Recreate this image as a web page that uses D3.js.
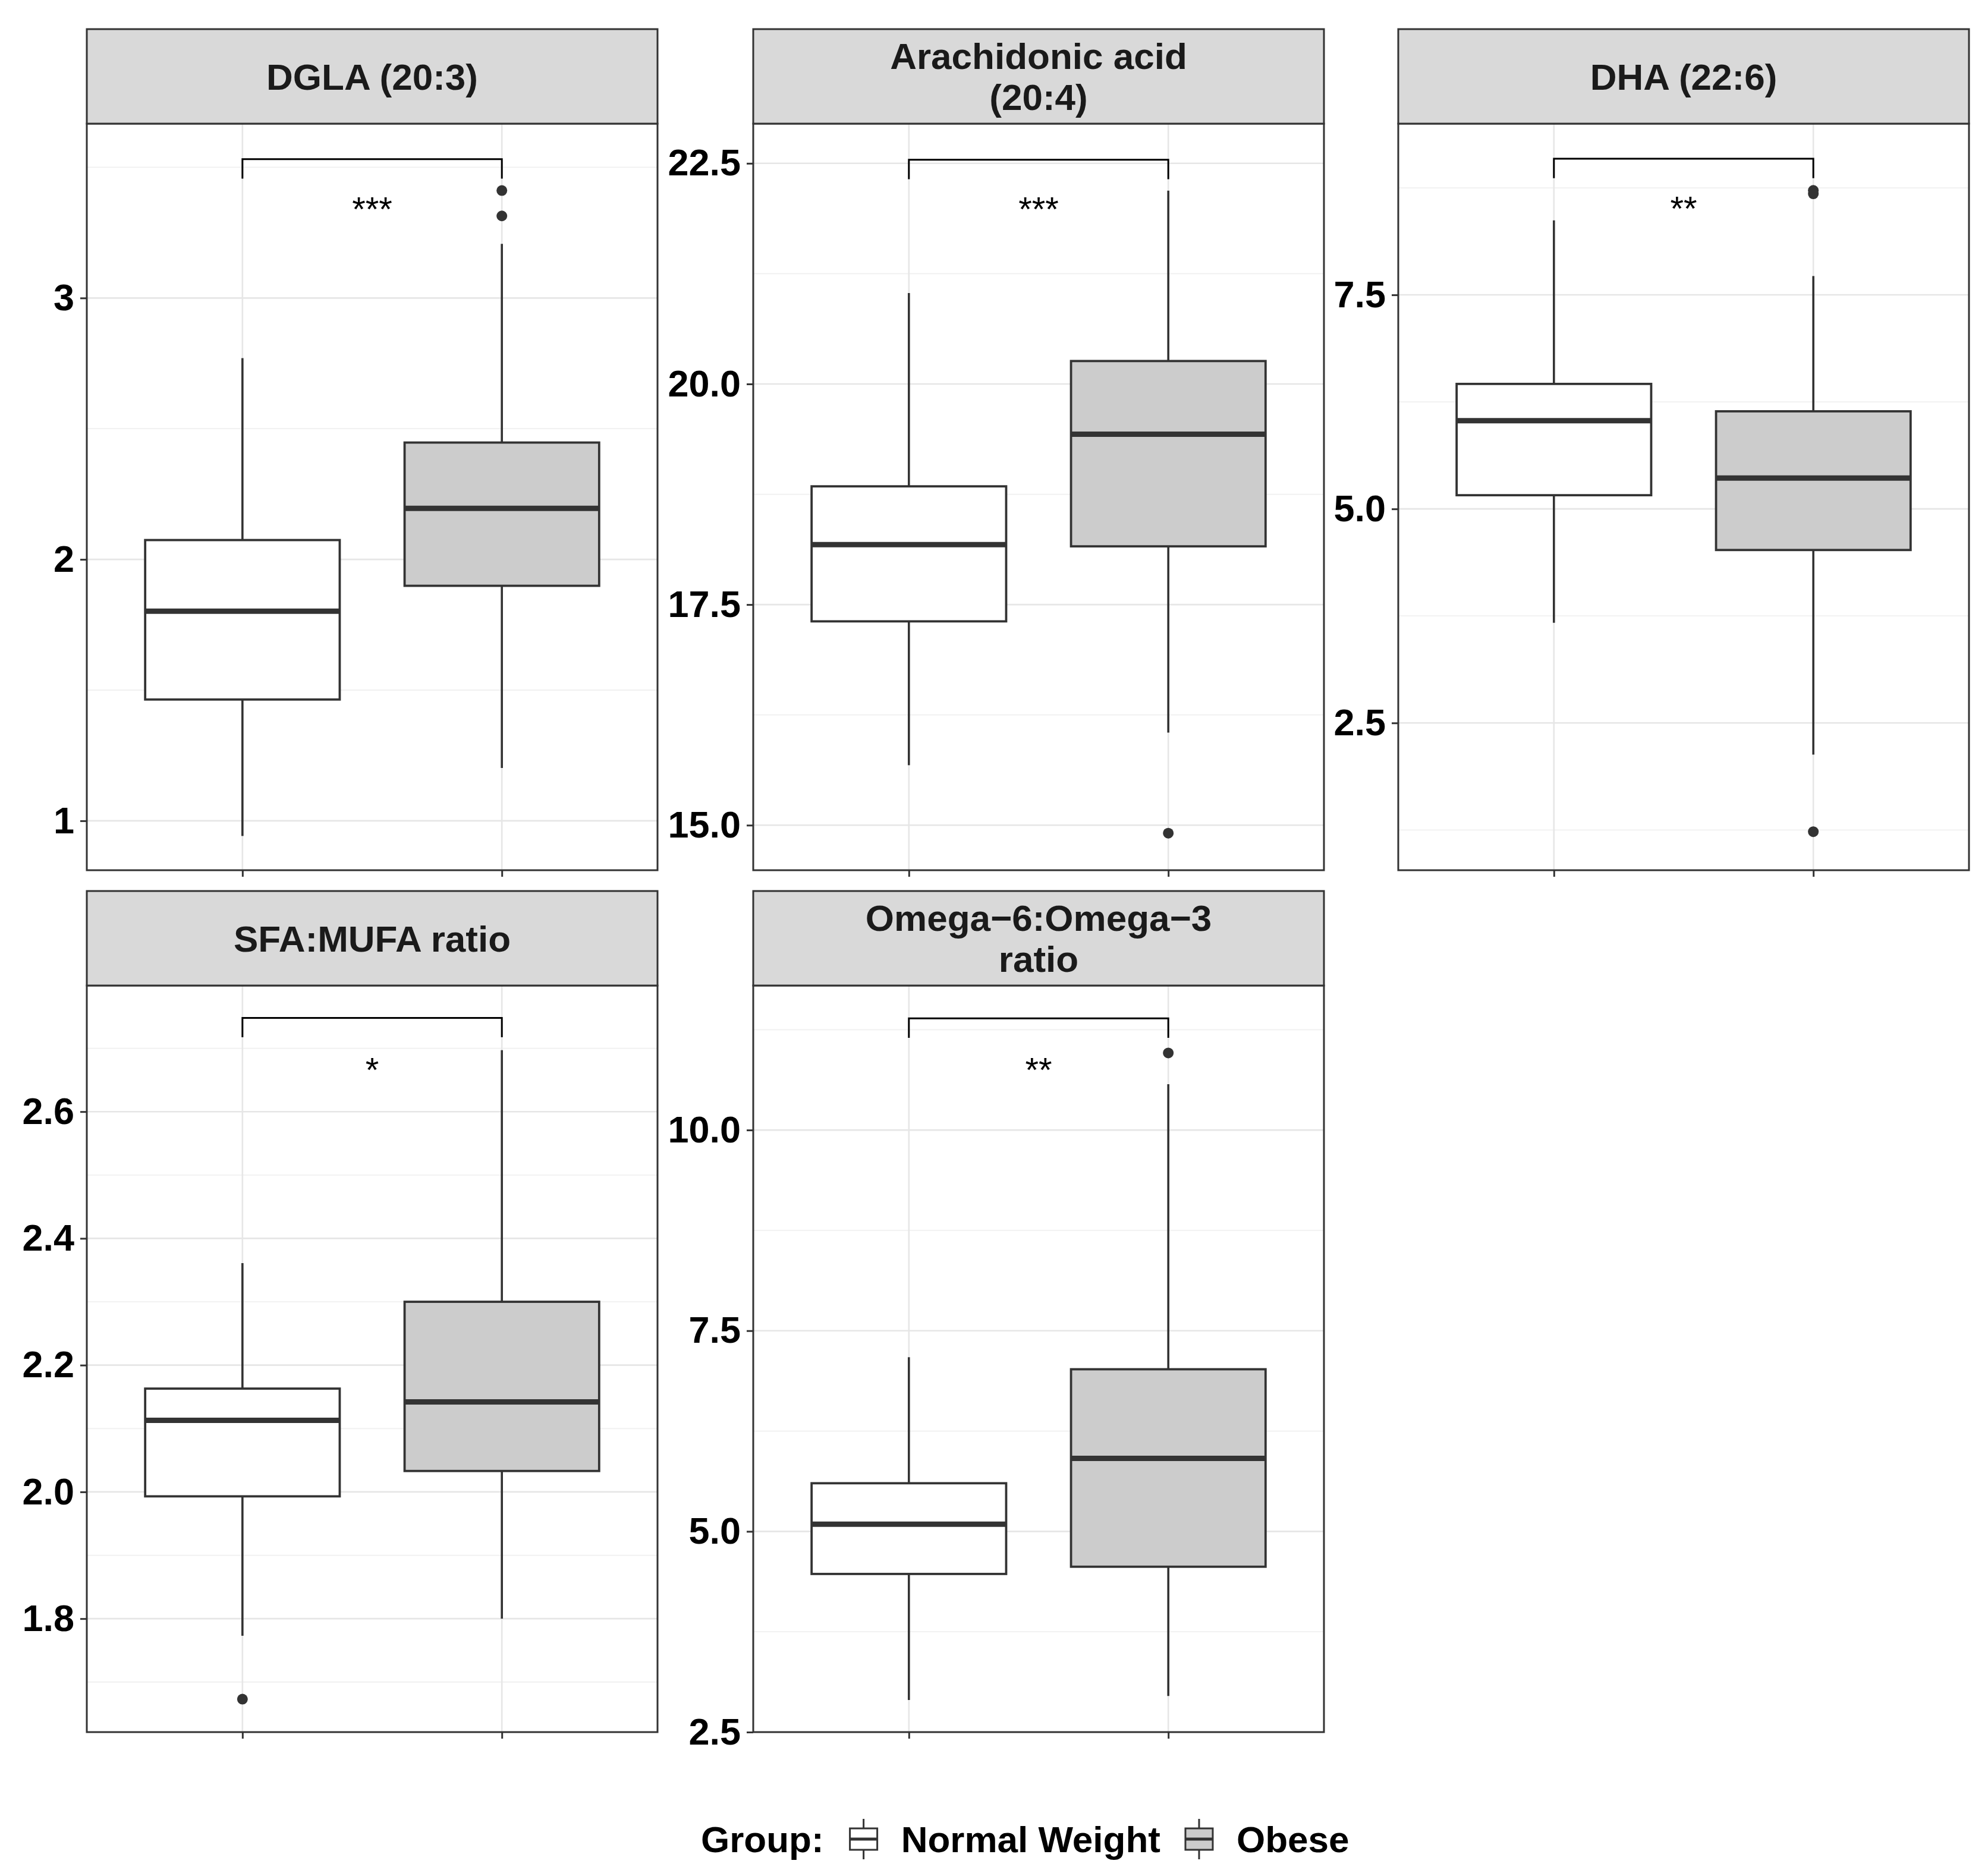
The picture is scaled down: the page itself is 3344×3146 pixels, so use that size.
<!DOCTYPE html>
<html>
<head>
<meta charset="utf-8">
<script src="https://cdn.jsdelivr.net/npm/d3@7"></script>
<style>
  body { margin: 0; background: #fff; }
  text { font-family: "Liberation Sans", Arial, sans-serif; }
</style>
</head>
<body>
<svg id="chart"></svg>
<script>
// --- Données ---
const titles = [
    ["DGLA (20:3)"],
    ["Arachidonic acid", "(20:4)"],
    ["DHA (22:6)"],
    ["SFA:MUFA ratio"],
    ["Omega\u22126:Omega\u22123", "ratio"]
];
const groups = ["Normal Weight", "Obese"];

// [moustache basse, Q1, médiane, Q3, moustache haute]
const normalStats = [
    [0.942, 1.464, 1.802, 2.074, 2.770],
    [15.68, 17.31, 18.18, 18.84, 21.03],
    [3.67, 5.16, 6.03, 6.46, 8.37],
    [1.773, 1.993, 2.113, 2.163, 2.361],
    [2.90, 4.47, 5.09, 5.60, 7.17]
];
const obeseStats = [
    [1.202, 1.899, 2.195, 2.447, 3.207],
    [16.05, 18.16, 19.43, 20.26, 22.19],
    [2.13, 4.52, 5.36, 6.14, 7.72],
    [1.800, 2.033, 2.142, 2.300, 2.697],
    [2.95, 4.56, 5.91, 7.02, 10.57]
];
const normalOutliers = [[], [], [], [1.673], []];
const obeseOutliers = [[3.411, 3.314], [14.91], [8.72, 8.68, 1.23], [], [10.96]];

const yDomains = [[0.811, 3.667], [14.49, 22.95], [0.78, 9.50], [1.621, 2.799], [2.5, 11.8]];
const yTicks = [[1, 2, 3], [15, 17.5, 20, 22.5], [2.5, 5, 7.5], [1.8, 2.0, 2.2, 2.4, 2.6], [2.5, 5, 7.5, 10]];
const tickLabels = [
    ["1", "2", "3"],
    ["15.0", "17.5", "20.0", "22.5"],
    ["2.5", "5.0", "7.5"],
    ["1.8", "2.0", "2.2", "2.4", "2.6"],
    ["2.5", "5.0", "7.5", "10.0"]
];
const bracketY = [3.531, 22.54, 9.09, 2.748, 11.39];
const sigLabelY = [3.37, 22.07, 8.60, 2.679, 10.85];
const sigLabels = ["***", "***", "**", "*", "**"];
const fills = ["#ffffff", "#cccccc"];

// --- Mise en page ---
const W = 3344, H = 3146;
const colLeft = [146, 1267, 2352];
const rowTop = [49, 1499];
const panelW = 960, stripH = 159, plotH = 1256;
const dark = "#333333";

const svg = d3.select('#chart')
    .attr('width', W)
    .attr('height', H)
    .attr('viewBox', `0 0 ${W} ${H}`);

svg.append('rect').attr('width', W).attr('height', H).attr('fill', '#fff');

titles.forEach((title, p) => {
    const left = colLeft[p % 3];
    const top = rowTop[Math.floor(p / 3)];
    const plotTop = top + stripH;

    const g = svg.append('g').attr('transform', `translate(${left},${plotTop})`);

    const x = d3.scalePoint().domain(groups).range([0, panelW]).padding(0.6);
    const y = d3.scaleLinear().domain(yDomains[p]).range([plotH, 0]);
    const boxW = x.step() * 0.75;

    // grille mineure
    const step = yTicks[p][1] - yTicks[p][0];
    const minors = d3.range(yTicks[p][0] - step / 2, yDomains[p][1], step)
        .filter(v => v > yDomains[p][0] && v < yDomains[p][1]);
    g.selectAll('.minor').data(minors).enter().append('line')
        .attr('x1', 0).attr('x2', panelW)
        .attr('y1', d => y(d)).attr('y2', d => y(d))
        .attr('stroke', '#f0f0f0').attr('stroke-width', 1.8);

    // grille majeure
    g.selectAll('.major').data(yTicks[p]).enter().append('line')
        .attr('x1', 0).attr('x2', panelW)
        .attr('y1', d => y(d)).attr('y2', d => y(d))
        .attr('stroke', '#e6e6e6').attr('stroke-width', 2.6);
    g.selectAll('.vmajor').data(groups).enter().append('line')
        .attr('x1', d => x(d)).attr('x2', d => x(d))
        .attr('y1', 0).attr('y2', plotH)
        .attr('stroke', '#e6e6e6').attr('stroke-width', 2.6);

    // boîtes
    const stats = [normalStats[p], obeseStats[p]];
    const outliers = [normalOutliers[p], obeseOutliers[p]];
    groups.forEach((grp, i) => {
        const s = stats[i];
        const cx = x(grp);
        const bg = g.append('g');
        bg.append('line')
            .attr('x1', cx).attr('x2', cx)
            .attr('y1', y(s[0])).attr('y2', y(s[1]))
            .attr('stroke', dark).attr('stroke-width', 3.6);
        bg.append('line')
            .attr('x1', cx).attr('x2', cx)
            .attr('y1', y(s[3])).attr('y2', y(s[4]))
            .attr('stroke', dark).attr('stroke-width', 3.6);
        bg.append('rect')
            .attr('x', cx - boxW / 2).attr('width', boxW)
            .attr('y', y(s[3])).attr('height', y(s[1]) - y(s[3]))
            .attr('fill', fills[i]).attr('stroke', dark).attr('stroke-width', 3.8);
        bg.append('line')
            .attr('x1', cx - boxW / 2).attr('x2', cx + boxW / 2)
            .attr('y1', y(s[2])).attr('y2', y(s[2]))
            .attr('stroke', dark).attr('stroke-width', 9);
        bg.selectAll('circle').data(outliers[i]).enter().append('circle')
            .attr('cx', cx).attr('cy', d => y(d)).attr('r', 9)
            .attr('fill', dark);
    });

    // crochet de comparaison
    const tip = (yDomains[p][1] - yDomains[p][0]) * 0.026;
    const bx1 = x(groups[0]), bx2 = x(groups[1]);
    g.append('path')
        .attr('d', `M${bx1},${y(bracketY[p] - tip)}V${y(bracketY[p])}H${bx2}V${y(bracketY[p] - tip)}`)
        .attr('fill', 'none').attr('stroke', '#000').attr('stroke-width', 3);
    g.append('text')
        .attr('x', (bx1 + bx2) / 2)
        .attr('y', y(sigLabelY[p]) + 58 * 0.58)
        .attr('text-anchor', 'middle')
        .attr('font-size', 58)
        .attr('fill', '#000')
        .text(sigLabels[p]);

    // cadre
    g.append('rect')
        .attr('width', panelW).attr('height', plotH)
        .attr('fill', 'none').attr('stroke', dark).attr('stroke-width', 3);

    // axe y
    const yAxis = g.append('g')
        .call(d3.axisLeft(y).tickValues(yTicks[p])
            .tickFormat((d, i) => tickLabels[p][i])
            .tickSize(11).tickPadding(10));
    yAxis.select('.domain').remove();
    yAxis.selectAll('line').attr('stroke', dark).attr('stroke-width', 3);
    yAxis.selectAll('text')
        .attr('font-size', 63).attr('font-weight', 'bold').attr('fill', '#000')
        .attr('font-family', '"Liberation Sans", Arial, sans-serif');

    // axe x (ticks seulement)
    const xAxis = g.append('g')
        .attr('transform', `translate(0,${plotH})`)
        .call(d3.axisBottom(x).tickSize(11).tickFormat(''));
    xAxis.select('.domain').remove();
    xAxis.selectAll('line').attr('stroke', dark).attr('stroke-width', 3);

    // bandeau du titre
    const strip = svg.append('g').attr('transform', `translate(${left},${top})`);
    strip.append('rect')
        .attr('width', panelW).attr('height', stripH)
        .attr('fill', '#d9d9d9').attr('stroke', dark).attr('stroke-width', 3);
    const lineGap = 69;
    title.forEach((line, k) => {
        const cy = stripH / 2 + (k - (title.length - 1) / 2) * lineGap;
        strip.append('text')
            .attr('x', panelW / 2)
            .attr('y', cy + 62 * 0.36)
            .attr('text-anchor', 'middle')
            .attr('font-size', 62)
            .attr('font-weight', 'bold')
            .attr('fill', '#1a1a1a')
            .text(line);
    });
});

// --- Légende ---
const legend = svg.append('g');
const legY = 3094;
let lx = 1179;
const gt = legend.append('text')
    .attr('x', lx).attr('y', legY + 62 * 0.36)
    .attr('font-size', 62).attr('font-weight', 'bold').attr('fill', '#000')
    .text('Group:');
lx += gt.node().getComputedTextLength() + 44;

groups.forEach((grp, i) => {
    const kw = 46;
    const kg = legend.append('g').attr('transform', `translate(${lx},${legY})`);
    kg.append('line')
        .attr('x1', kw / 2).attr('x2', kw / 2).attr('y1', -34).attr('y2', 34)
        .attr('stroke', dark).attr('stroke-width', 3);
    kg.append('rect')
        .attr('x', 0).attr('width', kw).attr('y', -18).attr('height', 36)
        .attr('fill', fills[i]).attr('stroke', dark).attr('stroke-width', 3);
    kg.append('line')
        .attr('x1', 0).attr('x2', kw).attr('y1', 0).attr('y2', 0)
        .attr('stroke', dark).attr('stroke-width', 5);
    lx += kw + 40;
    const t = legend.append('text')
        .attr('x', lx).attr('y', legY + 62 * 0.36)
        .attr('font-size', 62).attr('font-weight', 'bold').attr('fill', '#000')
        .text(grp);
    lx += t.node().getComputedTextLength() + 42;
});
</script>
</body>
</html>
